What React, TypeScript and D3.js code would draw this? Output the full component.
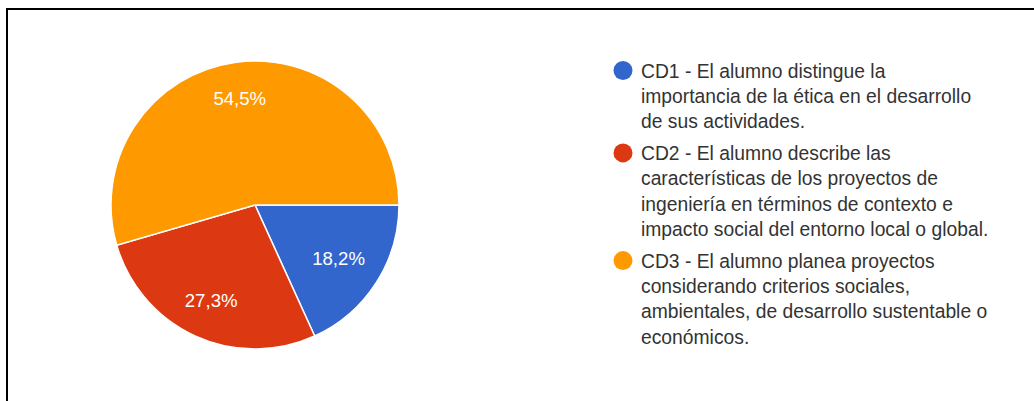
import React from "react";
import * as d3 from "d3";

const categories = ["CD1", "CD2", "CD3"];
const values = [18.2, 27.3, 54.5];
const colors = ["#3366cc", "#dc3912", "#ff9900"];
const legendLines = [
  ["CD1 - El alumno distingue la", "importancia de la ética en el desarrollo", "de sus actividades."],
  ["CD2 - El alumno describe las", "características de los proyectos de", "ingeniería en términos de contexto e", "impacto social del entorno local o global."],
  ["CD3 - El alumno planea proyectos", "considerando criterios sociales,", "ambientales, de desarrollo sustentable o", "económicos."],
];

const W = 1034;
const H = 401;
const cx = 255;
const cy = 205;
const R = 144;

export default function App() {
  const pie = d3
    .pie<number>()
    .sort(null)
    .startAngle(Math.PI / 2)
    .endAngle(Math.PI / 2 + 2 * Math.PI);
  const arcs = pie(values);
  const arc = d3.arc<d3.PieArcDatum<number>>().innerRadius(0).outerRadius(R);
  const labelRadii = [0.69, 0.73, 0.75];
  const fmt = (v: number) => v.toFixed(1).replace(".", ",") + "%";

  const legendX = 641;
  const lineH = 25.3;
  const itemGap = 6.5;
  let y = 77.5;
  const legendItems = legendLines.map((lines, i) => {
    const startY = y;
    y += lines.length * lineH + itemGap;
    return { lines, startY, i };
  });

  return (
    <svg
      width={W}
      height={H}
      style={{ position: "absolute", left: 0, top: 0, background: "#fff" }}
      fontFamily="'Liberation Sans', Arial, sans-serif"
    >
      <rect x={0} y={0} width={W} height={H} fill="#fff" />
      <line x1={6} y1={9} x2={W} y2={9} stroke="#000" strokeWidth={2} />
      <line x1={7} y1={8} x2={7} y2={H} stroke="#000" strokeWidth={2} />
      <g transform={`translate(${cx},${cy})`}>
        {arcs.map((a, i) => (
          <path key={categories[i]} d={arc(a) || ""} fill={colors[i]} stroke="#fff" strokeWidth={1.5} />
        ))}
        {arcs.map((a, i) => {
          const r = R * labelRadii[i];
          const la = d3.arc<d3.PieArcDatum<number>>().innerRadius(r).outerRadius(r);
          const [lx, ly] = la.centroid(a);
          return (
            <text
              key={"l" + i}
              x={lx}
              y={ly}
              fill="#fff"
              fontSize={18.6}
              textAnchor="middle"
              dominantBaseline="central"
            >
              {fmt(values[i])}
            </text>
          );
        })}
      </g>
      {legendItems.map(({ lines, startY, i }) => (
        <g key={"leg" + i}>
          <circle cx={623} cy={startY - 7} r={9.5} fill={colors[i]} />
          {lines.map((ln, j) => (
            <text key={j} x={legendX} y={startY + j * lineH} fontSize={19.3} fill="#333">
              {ln}
            </text>
          ))}
        </g>
      ))}
    </svg>
  );
}
